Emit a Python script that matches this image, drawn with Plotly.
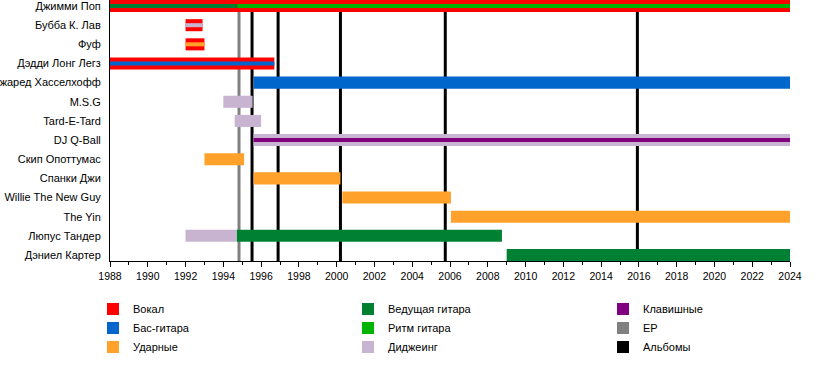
import plotly.graph_objects as go

# ---- data ----
members = ["Джимми Поп", "Бубба К. Лав", "Фуф", "Дэдди Лонг Легз", "Джаред Хасселхофф",
           "M.S.G", "Tard-E-Tard", "DJ Q-Ball", "Скип Опоттумас", "Спанки Джи",
           "Willie The New Guy", "The Yin", "Люпус Тандер", "Дэниел Картер"]

roles = ["Вокал", "Бас-гитара", "Ударные", "Ведущая гитара", "Ритм гитара",
         "Диджеинг", "Клавишные"]
role_colors = {"Вокал": "#FF0000", "Бас-гитара": "#0066CC", "Ударные": "#FFA12B",
               "Ведущая гитара": "#008033", "Ритм гитара": "#00B300",
               "Диджеинг": "#C8B4D0", "Клавишные": "#800080"}

# primary roles (member, role, start, end)
main_member = ["Джимми Поп", "Бубба К. Лав", "Фуф", "Дэдди Лонг Легз", "Джаред Хасселхофф",
               "M.S.G", "Tard-E-Tard", "DJ Q-Ball", "Скип Опоттумас", "Спанки Джи",
               "Willie The New Guy", "The Yin", "Люпус Тандер", "Люпус Тандер", "Дэниел Картер"]
main_role = ["Вокал", "Вокал", "Вокал", "Вокал", "Бас-гитара",
             "Диджеинг", "Диджеинг", "Диджеинг", "Ударные", "Ударные",
             "Ударные", "Ударные", "Диджеинг", "Ведущая гитара", "Ведущая гитара"]
main_start = [1988.0, 1992.0, 1992.0, 1988.0, 1995.6,
              1994.0, 1994.6, 1995.6, 1993.0, 1995.6,
              2000.3, 2006.05, 1992.0, 1994.7, 2009.0]
main_end = [2024.0, 1992.9, 1993.0, 1996.7, 2024.0,
            1995.55, 1996.0, 2024.0, 1995.1, 2000.2,
            2006.05, 2024.0, 1994.7, 2008.75, 2024.0]

# secondary roles (member, role, start, end)
sec_member = ["Джимми Поп", "Джимми Поп", "Бубба К. Лав", "Фуф", "Дэдди Лонг Легз", "DJ Q-Ball"]
sec_role = ["Ведущая гитара", "Ритм гитара", "Диджеинг", "Ударные", "Бас-гитара", "Клавишные"]
sec_start = [1988.0, 1994.75, 1992.0, 1992.0, 1988.0, 1995.6]
sec_end = [1994.75, 2024.0, 1992.9, 1993.0, 1996.7, 2024.0]

ep_years = [1994.83]
album_years = [1995.52, 1996.9, 2000.2, 2005.75, 2015.92]

x_start, x_end = 1988, 2024

legend_order = ["Вокал", "Ведущая гитара", "Клавишные",
                "Бас-гитара", "Ритм гитара", "EP",
                "Ударные", "Диджеинг", "Альбомы"]

# ---- figure ----
fig = go.Figure()
shown = set()


def add_layer(mem, rol, st, en, width):
    for role in roles:
        idx = [i for i, r in enumerate(rol) if r == role]
        if not idx:
            continue
        fig.add_trace(go.Bar(
            y=[mem[i] for i in idx],
            x=[en[i] - st[i] for i in idx],
            base=[st[i] for i in idx],
            orientation="h",
            width=width,
            marker=dict(color=role_colors[role], line=dict(width=0)),
            name=role,
            legendgroup=role,
            showlegend=role not in shown,
            legendrank=legend_order.index(role) + 1,
            hoverinfo="skip",
        ))
        shown.add(role)


add_layer(main_member, main_role, main_start, main_end, 0.63)
add_layer(sec_member, sec_role, sec_start, sec_end, 0.21)

for name, col in [("EP", "#808080"), ("Альбомы", "#000000")]:
    fig.add_trace(go.Bar(x=[None], y=[None], orientation="h", name=name,
                         marker=dict(color=col, line=dict(width=0)),
                         legendrank=legend_order.index(name) + 1, hoverinfo="skip"))

for yr in ep_years:
    fig.add_shape(type="line", x0=yr, x1=yr, xref="x", y0=0, y1=1, yref="paper",
                  line=dict(color="#808080", width=3), layer="below")
for yr in album_years:
    fig.add_shape(type="line", x0=yr, x1=yr, xref="x", y0=0, y1=1, yref="paper",
                  line=dict(color="#000000", width=3), layer="below")

fig.update_layout(
    width=818, height=380,
    margin=dict(l=110, r=28, t=0, b=119, autoexpand=False),
    barmode="overlay",
    plot_bgcolor="white", paper_bgcolor="white",
    hovermode=False,
    font=dict(family="Liberation Sans, Arial, sans-serif", size=11, color="#000000"),
    xaxis=dict(range=[x_start, x_end], dtick=2, tick0=1988, showgrid=False, zeroline=False,
               showline=True, linecolor="black", linewidth=1, automargin=False,
               ticks="outside", ticklen=5, tickcolor="black", tickwidth=1,
               minor=dict(dtick=1, ticks="outside", ticklen=3, tickcolor="black", showgrid=False),
               tickfont=dict(size=10.5)),
    yaxis=dict(type="category", categoryorder="array", categoryarray=members,
               range=[13.315, -0.315], showgrid=False, zeroline=False, automargin=False,
               showline=True, linecolor="black", linewidth=1, ticks="",
               ticklabelstandoff=6, tickfont=dict(size=11)),
    legend=dict(orientation="h", x=-0.025, xanchor="left", y=-0.128, yanchor="top",
                entrywidth=210, entrywidthmode="pixels", traceorder="normal",
                font=dict(size=11)),
    showlegend=True,
)

fig.write_html("out.html", config={"displayModeBar": False},
               post_script="document.body.style.margin='0';")
